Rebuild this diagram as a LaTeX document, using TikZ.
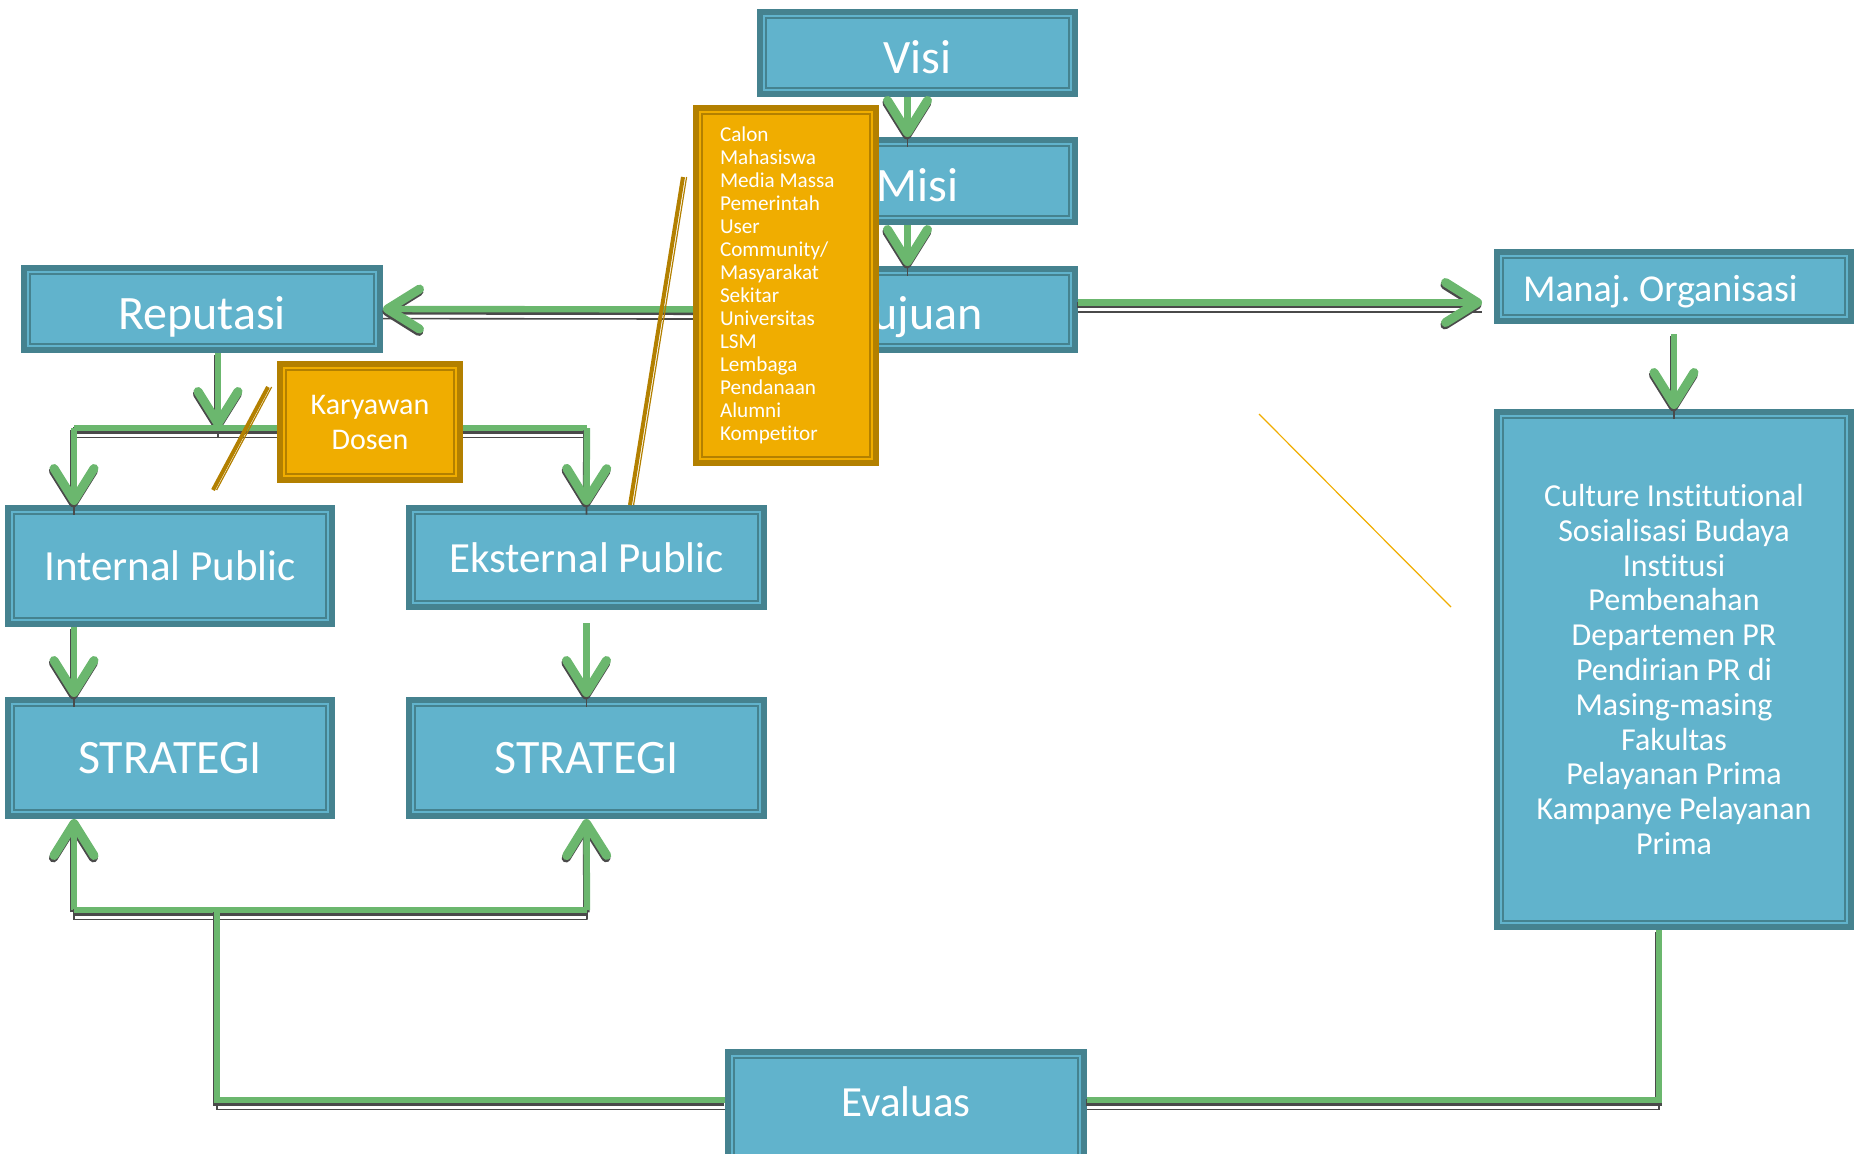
\documentclass[tikz,border=0pt]{standalone}
\usepackage{fontspec}
\setmainfont{Carlito}[Ligatures=NoCommon]
\usetikzlibrary{arrows.meta}

\definecolor{boxfill}{HTML}{61B3CC}
\definecolor{boxedge}{HTML}{45828F}
\definecolor{gold}{HTML}{F0AD00}
\definecolor{goldedge}{HTML}{B38000}
\definecolor{flowgreen}{HTML}{6BB76E}
\definecolor{shadowgray}{HTML}{4A4A4A}

\tikzset{
  frame/.style={draw=#1, line width=3pt, inner sep=0pt, text=white,
    path picture={\draw[#1, line width=1pt]
      ([shift={(3pt,-3pt)}]path picture bounding box.north west) rectangle
      ([shift={(-3pt,3pt)}]path picture bounding box.south east);}},
  box/.style={frame=boxedge, fill=boxfill},
  goldbox/.style={frame=goldedge, fill=gold},
  sized/.style 2 args={minimum width=#1, minimum height=#2},
  big/.style={font=\fontsize{24}{28}\selectfont, text height=20pt, text depth=0pt},
  mid/.style={font=\fontsize{21.5}{26}\selectfont},
  flowline/.style={draw=flowgreen, line width=3.2pt},
  flow/.style={flowline, -{Straight Barb[length=16pt, width=20pt, line width=4.5pt, round]}},
  slash/.style={draw=goldedge, line width=2pt,
    postaction={draw=goldedge, line width=0.6pt, transform canvas={shift={(1.8pt,0pt)}}}}
}
% thin shadow line, solid shadow, then the green line
\newcommand{\flowpath}[2]{%
  \draw[#1, draw=shadowgray, line width=0.8pt, arrows=-, transform canvas={shift={(0pt,-4.8pt)}}] #2;
  \draw[#1, draw=shadowgray, transform canvas={shift={(-0.3pt,-1.2pt)}}] #2;
  \draw[#1] #2;}

\begin{document}
\begin{tikzpicture}[x=0.5pt, y=-0.5pt]
\useasboundingbox (0,0) rectangle (1854,1153);
\clip (0,0) rectangle (1854,1153);

% visi - misi - tujuan
\node[box, big, sized={157.5pt}{41pt}] (visi) at (917.5,53) {Visi};
\node[box, big, sized={157.5pt}{41pt}] (misi) at (917.5,181) {Misi};
\node[box, big, sized={157.5pt}{40.5pt}] (tujuan) at (917.5,309.5) {Tujuan};
\flowpath{flow}{([xshift=-5pt]visi.south) -- ([xshift=-5pt]misi.north)}
\flowpath{flow}{([xshift=-5pt]misi.south) -- ([xshift=-5pt]tujuan.north)}

\node[box, big, sized={178pt}{41pt}] (reputasi) at (202,309) {Reputasi};
\node[box, font=\fontsize{19}{23}\selectfont\frenchspacing, text height=15pt, text depth=0pt,
  text width=151pt, align=flush left, sized={177pt}{34.5pt}] (manaj) at (1674,286.5) {Manaj. Organisasi};
\node[box, align=center, font=\fontsize{16}{17.4}\selectfont, sized={177pt}{257.5pt}] (culture) at (1674,669.5)
  {Culture Institutional\\Sosialisasi Budaya\\Institusi\\Pembenahan\\Departemen PR\\Pendirian PR di\\Masing-masing\\Fakultas\\Pelayanan Prima\\Kampanye Pelayanan\\Prima};

\flowpath{flow}{(tujuan.west) -- (reputasi.east)}
\flowpath{flow, shorten >=6pt}{([yshift=3.5pt]tujuan.east) -- ([yshift=3.5pt]tujuan.east -| manaj.west)}
\flowpath{flow}{([yshift=-5pt]manaj.south) -- (culture.north)}

% stakeholder list
\node[goldbox, text width=66pt, align=flush left, font=\fontsize{10.6}{11.5}\selectfont, sized={90pt}{177.5pt}] (eksternlist) at (786,285.5)
  {Calon\\Mahasiswa\\Media Massa\\Pemerintah\\User\\Community/\\Masyarakat\\Sekitar\\Universitas\\LSM\\Lembaga\\Pendanaan\\Alumni\\Kompetitor};

% publics
\node[box, mid, sized={162pt}{58pt}] (internal) at (170,566) {Internal Public};
\node[box, mid, sized={177.5pt}{49.5pt}] (eksternal) at (586.5,557.5) {Eksternal Public};
\node[box, big, text height=15.5pt, sized={162pt}{58pt}] (stratl) at (170,758) {STRATEGI};
\node[box, big, text height=15.5pt, sized={177.5pt}{58pt}] (stratr) at (586.5,758) {STRATEGI};

\coordinate (split) at (218,428);
\coordinate (lbranch) at (74,428);
\coordinate (rbranch) at (587,428);
\flowpath{flow}{(reputasi.south -| split) -- (split)}
\flowpath{flowline}{(lbranch) -- (rbranch)}
\flowpath{flow}{(lbranch) -- (lbranch |- internal.north)}
\flowpath{flow}{(rbranch) -- (eksternal.north)}

\node[goldbox, align=center, font=\fontsize{15}{17.5}\selectfont, sized={90pt}{58pt}] (karyawan) at (370,422) {Karyawan\\Dosen};

\coordinate (kdlow) at (213,490);
\coordinate (kdhigh) at (268,387);
\coordinate (listtail) at (683,177);
\draw[slash] (kdlow) -- (kdhigh);
\draw[slash] ([xshift=21.75pt]eksternal.north) -- (listtail);
\draw[gold, line width=0.6pt] (1259,414) -- (1451,607);

\flowpath{flow}{(internal.south -| lbranch) -- (stratl.north -| lbranch)}
\flowpath{flow}{([yshift=-6.5pt]eksternal.south) -- (stratr.north)}

% evaluasi loop
\node[box, mid, text height=15pt, text depth=8.5pt, sized={178pt}{57.5pt}] (evaluas) at (906,1109.5) {Evaluas};
\coordinate (lfoot) at (74,910);
\coordinate (rfoot) at (587,910);
\coordinate (evjoin) at (217,910);
\flowpath{flow}{(lfoot) -- (lfoot |- stratl.south)}
\flowpath{flow}{(rfoot) -- (stratr.south)}
\flowpath{flowline}{(lfoot) -- (rfoot)}
\flowpath{flowline}{([yshift=4.75pt]evaluas.west) -| (evjoin)}
\flowpath{flowline}{([yshift=4.75pt]evaluas.east) -| ([xshift=-7.5pt]culture.south)}
\end{tikzpicture}
\end{document}
